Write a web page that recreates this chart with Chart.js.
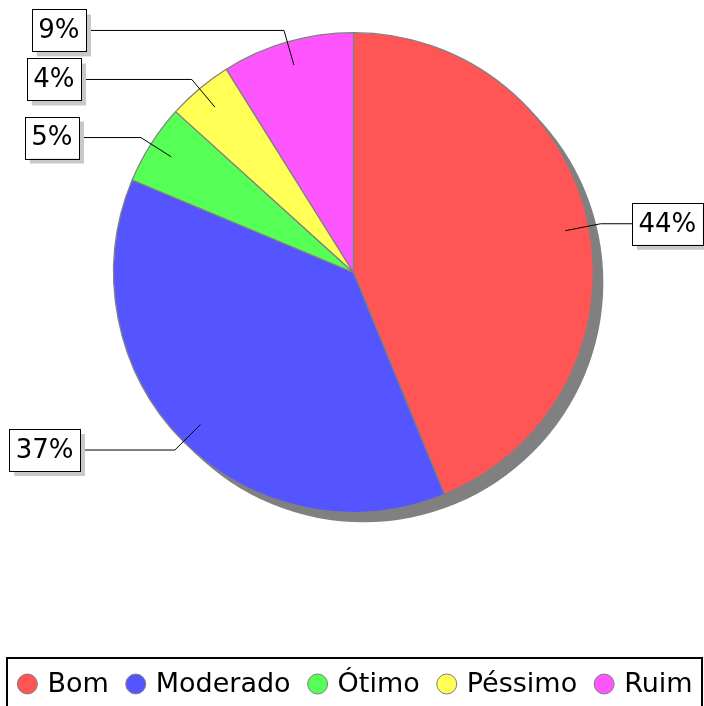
<!DOCTYPE html>
<html>
<head>
<meta charset="utf-8">
<script src="https://cdn.jsdelivr.net/npm/chart.js@4.4.1/dist/chart.umd.min.js"></script>
<style>
  html, body { margin: 0; padding: 0; background: #fff; }
  #wrap { width: 704px; height: 706px; }
</style>
</head>
<body>
<div id="wrap"><canvas id="pie" width="704" height="706"></canvas></div>
<script>
// data
const categories = ['Bom', 'Moderado', 'Ótimo', 'Péssimo', 'Ruim'];
const shares = [43.8, 37.5, 5.4, 4.4, 8.9];
const sliceColors = ['#FF5555', '#5555FF', '#55FF55', '#FFFF55', '#FF55FF'];

// label box edge nearest the pie (layout only)
const labelEdgeX = [632, 80, 79, 81, 86];

const LABEL_FONT = '26px "DejaVu Sans", sans-serif';
const LEGEND_FONT = '27px "DejaVu Sans", sans-serif';

const pieShadow = {
    id: 'pieShadow',
    beforeDatasetsDraw(chart) {
        const arc = chart.getDatasetMeta(0).data[0];
        if (!arc) return;
        const ctx = chart.ctx;
        ctx.save();
        ctx.fillStyle = '#808080';
        ctx.beginPath();
        ctx.arc(arc.x + 10, arc.y + 10, arc.outerRadius, 0, Math.PI * 2);
        ctx.fill();
        ctx.restore();
    }
};

const sliceLabels = {
    id: 'sliceLabels',
    afterDatasetsDraw(chart) {
        const ctx = chart.ctx;
        const values = chart.data.datasets[0].data;
        const total = values.reduce((a, b) => a + b, 0);
        ctx.save();
        ctx.font = LABEL_FONT;
        ctx.textBaseline = 'middle';
        chart.getDatasetMeta(0).data.forEach((arc, i) => {
            const mid = (arc.startAngle + arc.endAngle) / 2;
            const r = arc.outerRadius;
            const ax = arc.x + Math.cos(mid) * r * 0.9;
            const ay = arc.y + Math.sin(mid) * r * 0.9;
            const ex = arc.x + Math.cos(mid) * r * 1.05;
            const ey = arc.y + Math.sin(mid) * r * 1.05;
            const text = Math.round(values[i] / total * 100) + '%';
            const tw = ctx.measureText(text).width;
            const bw = tw + 13, bh = 42;
            const left = Math.cos(mid) < 0;
            const bx = left ? labelEdgeX[i] - bw : labelEdgeX[i];
            const by = ey - bh / 2;

            // leader line
            ctx.strokeStyle = '#000';
            ctx.lineWidth = 1;
            ctx.beginPath();
            ctx.moveTo(ax, ay);
            ctx.lineTo(ex, ey);
            ctx.lineTo(left ? bx + bw : bx, ey);
            ctx.stroke();

            // box shadow, box, text
            ctx.fillStyle = '#c8c8c8';
            ctx.fillRect(bx + 5, by + 5, bw, bh);
            ctx.fillStyle = '#fff';
            ctx.fillRect(bx, by, bw, bh);
            ctx.strokeStyle = '#000';
            ctx.strokeRect(Math.round(bx) + 0.5, Math.round(by) + 0.5, Math.round(bw), Math.round(bh));
            ctx.fillStyle = '#000';
            ctx.textAlign = 'center';
            ctx.fillText(text, bx + bw / 2, ey + 1);
        });
        ctx.restore();
    }
};

const boxLegend = {
    id: 'boxLegend',
    afterDraw(chart) {
        const ctx = chart.ctx;
        const labels = chart.data.labels;
        const colors = chart.data.datasets[0].backgroundColor;
        ctx.save();
        ctx.font = LEGEND_FONT;
        ctx.textBaseline = 'middle';
        ctx.textAlign = 'left';
        const gap = 17, dot = 20, dotGap = 10;
        const widths = labels.map(l => ctx.measureText(l).width);
        const total = widths.reduce((a, w) => a + dot + dotGap + w, 0) + gap * (labels.length - 1);
        let x = 355 - total / 2;
        const cy = 684;

        ctx.strokeStyle = '#000';
        ctx.lineWidth = 2;
        ctx.strokeRect(7, 658, 695, 60);

        labels.forEach((l, i) => {
            ctx.beginPath();
            ctx.arc(x + dot / 2, cy, dot / 2, 0, Math.PI * 2);
            ctx.fillStyle = colors[i];
            ctx.fill();
            ctx.lineWidth = 1;
            ctx.strokeStyle = '#808080';
            ctx.stroke();
            ctx.fillStyle = '#000';
            ctx.fillText(l, x + dot + dotGap, cy + 1);
            x += dot + dotGap + widths[i] + gap;
        });
        ctx.restore();
    }
};

new Chart(document.getElementById('pie'), {
    type: 'pie',
    data: {
        labels: categories,
        datasets: [{
            data: shares,
            backgroundColor: sliceColors,
            borderColor: '#808080',
            borderWidth: 1.3,
            hoverOffset: 0,
            offset: 0
        }]
    },
    options: {
        responsive: false,
        animation: false,
        devicePixelRatio: 1,
        layout: { padding: { left: 113, right: 110, top: 32, bottom: 193 } },
        plugins: {
            legend: { display: false },
            tooltip: { enabled: false }
        }
    },
    plugins: [pieShadow, sliceLabels, boxLegend]
});
</script>
</body>
</html>
